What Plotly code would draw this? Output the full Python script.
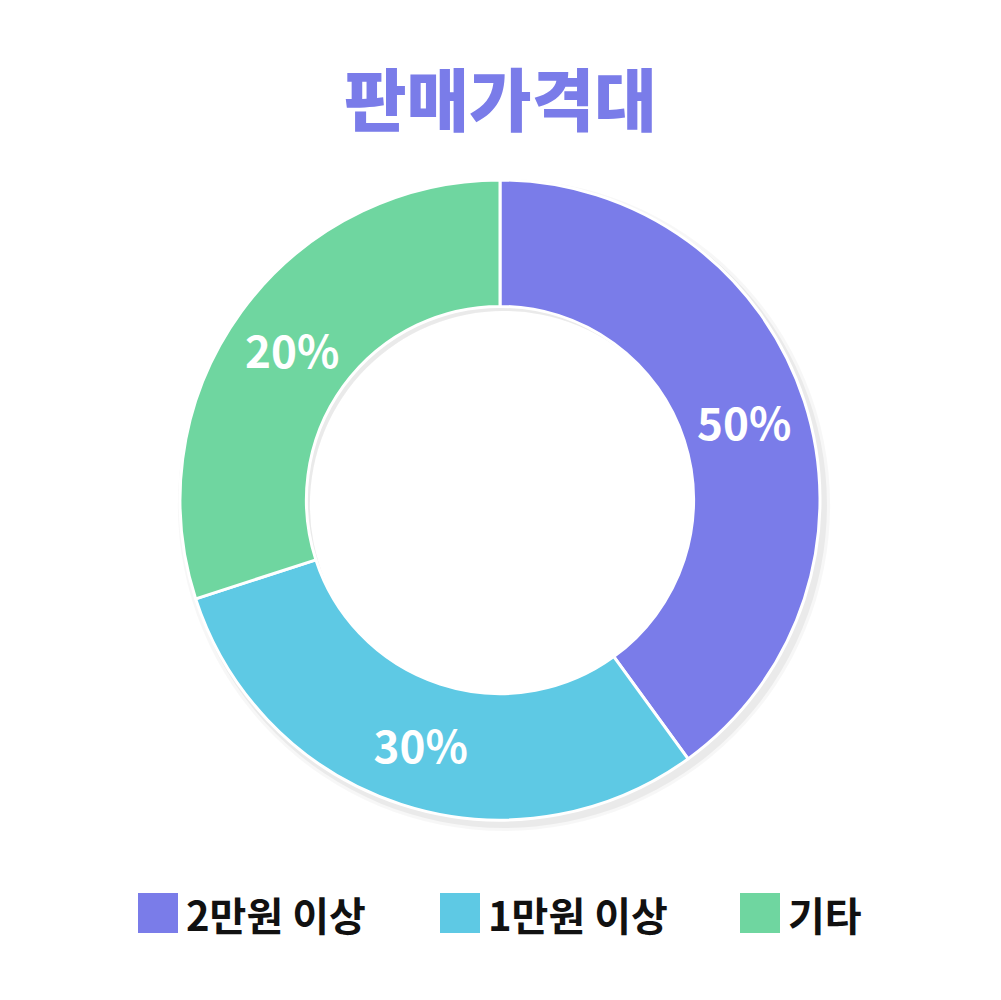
"""Donut chart: 판매가격대 share by price band."""
import plotly.graph_objects as go

labels = ["2만원 이상", "1만원 이상", "기타"]
values = [40, 30, 30]                 # slice sizes as drawn
text_labels = ["50%", "30%", "20%"]   # printed on the slices
colors = ["#7A7CE9", "#5EC9E4", "#6FD6A0"]

W, H = 1001, 1000
OFF = 8  # page body margin: screen px -> figure px


def px(x):
    return (x - OFF) / W


def py(y):
    return 1 - (y - OFF) / H


# pie box on screen (centre 500,500, outer radius 320)
x0, x1, y0, y1 = 180, 820, 180, 820

fig = go.Figure()

# soft shadow: same ring nudged down-right, shows outside bottom-right
# and as an inset at the top-left of the hole
for grow, alpha in [(6, 0.03), (3, 0.05)]:
    r_out = 320 + grow
    fig.add_trace(go.Pie(
        values=[1], hole=194 / r_out, sort=False,
        marker=dict(colors=[f"rgba(0,0,0,{alpha})"], line=dict(width=0)),
        textinfo="none", hoverinfo="skip", showlegend=False,
        domain=dict(x=[px(500 + 4 - r_out), px(500 + 4 + r_out)],
                    y=[py(500 + 5 + r_out), py(500 + 5 - r_out)])))

fig.add_trace(go.Pie(
    labels=labels, values=values, text=text_labels, hole=0.605,
    sort=False, direction="clockwise", rotation=0,
    marker=dict(colors=colors, line=dict(color="white", width=3)),
    textinfo="text", textposition="inside", insidetextorientation="horizontal",
    textfont=dict(family="Noto Sans CJK KR", size=44, color="white", weight=700),
    hoverinfo="label+text", showlegend=False,
    domain=dict(x=[px(x0), px(x1)], y=[py(y1), py(y0)])))

# legend drawn by hand: 40px colour squares + bold labels
legend_x = [138, 440, 740]
shapes, annotations = [], []
for lx, lab, col in zip(legend_x, labels, colors):
    shapes.append(dict(type="rect", xref="paper", yref="paper",
                       x0=px(lx), x1=px(lx + 40), y0=py(933), y1=py(893),
                       fillcolor=col, line_width=0))
    annotations.append(dict(text=lab, xref="paper", yref="paper",
                            x=px(lx + 46), y=py(914),
                            xanchor="left", yanchor="middle", showarrow=False,
                            font=dict(family="Noto Sans CJK KR", size=40,
                                      color="#111111", weight=700)))

annotations.append(dict(text="판매가격대", xref="paper", yref="paper",
                        x=px(500), y=py(97), xanchor="center", yanchor="middle",
                        showarrow=False,
                        font=dict(family="Noto Sans CJK KR", size=68,
                                  color="#7A7CE9", weight=900)))

fig.update_layout(
    width=W, height=H, paper_bgcolor="white", plot_bgcolor="white",
    margin=dict(l=0, r=0, t=0, b=0), showlegend=False,
    shapes=shapes, annotations=annotations)

fig.write_html("out.html")
